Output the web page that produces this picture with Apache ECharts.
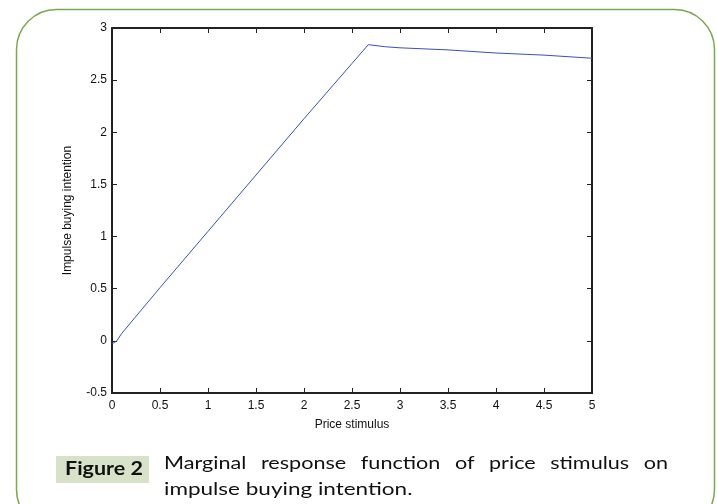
<!DOCTYPE html>
<html>
<head>
<meta charset="utf-8" />
<script type="text/javascript" src="https://cdn.jsdelivr.net/npm/echarts@6/dist/echarts.min.js"></script>
<title>Figure 2</title>
<style>
  html, body { margin: 0; padding: 0; background: #fff; }
  #main { width: 717px; height: 504px; }
</style>
</head>
<body>
<div id="main"></div>
<script type="text/javascript">
  // price stimulus (x) and impulse buying intention (y)
  var stimulus  = [0, 0.05, 0.1, 0.5, 1, 1.5, 2, 2.5, 2.67, 2.85, 3, 3.5, 4, 4.5, 5];
  var intention = [-0.03, 0.0, 0.07, 0.51, 1.05, 1.59, 2.13, 2.66, 2.84, 2.82, 2.81, 2.79, 2.76, 2.74, 2.71];
  var xTicks = ['0', '0.5', '1', '1.5', '2', '2.5', '3', '3.5', '4', '4.5', '5'];
  var yTicks = ['-0.5', '0', '0.5', '1', '1.5', '2', '2.5', '3'];

  var pts = [];
  for (var i = 0; i < stimulus.length; i++) pts.push([stimulus[i], intention[i]]);

  // caption, first line justified between 164 and 668 like the original
  var capWords = ['Marginal', 'response', 'function', 'of', 'price', 'stimulus', 'on'];
  var capFont = '18px Lato, "Open Sans", sans-serif';
  var capScale = 1.2;

  var ctx = document.createElement('canvas').getContext('2d');
  ctx.font = capFont;
  var widths = capWords.map(function (w) { return ctx.measureText(w).width * capScale; });
  var total = widths.reduce(function (a, b) { return a + b; }, 0);
  var gap = (668 - 164 - total) / (capWords.length - 1);

  var myChart = echarts.init(document.getElementById('main'));
  var lineStyle = {color: '#222', width: 2};
  var tickStyle = {show: true, inside: true, length: 5, lineStyle: {color: '#222', width: 1}};
  var lbl = {color: '#111', fontSize: 12, fontFamily: 'Liberation Sans, Arial'};

  var graphics = [
    {
      type: 'rect', left: 14, top: 7, z: -1,
      shape: {width: 698, height: 520, r: 40},
      style: {fill: 'none', stroke: '#7aa84c', lineWidth: 1.5}
    },
    {
      type: 'rect', left: 56, top: 456,
      shape: {width: 93, height: 27},
      style: {fill: '#d7e2c9'}
    },
    {
      type: 'text', x: 65, y: 459, scaleX: 1.13,
      style: {text: 'Figure 2', fill: '#111', font: 'bold 19px Lato, "Open Sans", sans-serif', verticalAlign: 'top'}
    },
    {
      type: 'text', x: 164, y: 480, scaleX: 1.25,
      style: {text: 'impulse buying intention.', fill: '#111', font: capFont, verticalAlign: 'top'}
    }
  ];
  var cx = 164;
  for (var k = 0; k < capWords.length; k++) {
    graphics.push({
      type: 'text', x: cx, y: 454, scaleX: capScale,
      style: {text: capWords[k], fill: '#111', font: capFont, verticalAlign: 'top'}
    });
    cx += widths[k] + gap;
  }

  var option = {
    animation: false,
    grid: {left: 112, top: 28, right: 125, bottom: 111},
    xAxis: [
      {
        type: 'value', min: 0, max: 5, interval: 0.5, position: 'bottom',
        name: 'Price stimulus', nameLocation: 'middle', nameGap: 26,
        nameTextStyle: {color: '#111', fontSize: 12, fontFamily: 'Liberation Sans, Arial'},
        axisLine: {show: true, onZero: false, lineStyle: lineStyle},
        axisTick: tickStyle,
        axisLabel: Object.assign({margin: 7, formatter: function (v) { return xTicks[Math.round(v * 2)]; }}, lbl),
        splitLine: {show: false}
      },
      {
        type: 'value', min: 0, max: 5, interval: 0.5, position: 'top',
        axisLine: {show: true, onZero: false, lineStyle: lineStyle},
        axisTick: tickStyle, axisLabel: {show: false}, splitLine: {show: false}
      }
    ],
    yAxis: [
      {
        type: 'value', min: -0.5, max: 3, interval: 0.5, position: 'left',
        name: 'Impulse buying intention', nameLocation: 'middle', nameGap: 38,
        nameTextStyle: {color: '#111', fontSize: 12, fontFamily: 'Liberation Sans, Arial'},
        axisLine: {show: true, onZero: false, lineStyle: lineStyle},
        axisTick: tickStyle,
        axisLabel: Object.assign({margin: 5, formatter: function (v) { return yTicks[Math.round((v + 0.5) * 2)]; }}, lbl),
        splitLine: {show: false}
      },
      {
        type: 'value', min: -0.5, max: 3, interval: 0.5, position: 'right',
        axisLine: {show: true, onZero: false, lineStyle: lineStyle},
        axisTick: tickStyle, axisLabel: {show: false}, splitLine: {show: false}
      }
    ],
    series: [
      {
        type: 'line', data: pts, symbol: 'none',
        lineStyle: {color: '#3b4fb8', width: 1}
      }
    ],
    graphic: graphics
  };
  myChart.setOption(option);
</script>
</body>
</html>
